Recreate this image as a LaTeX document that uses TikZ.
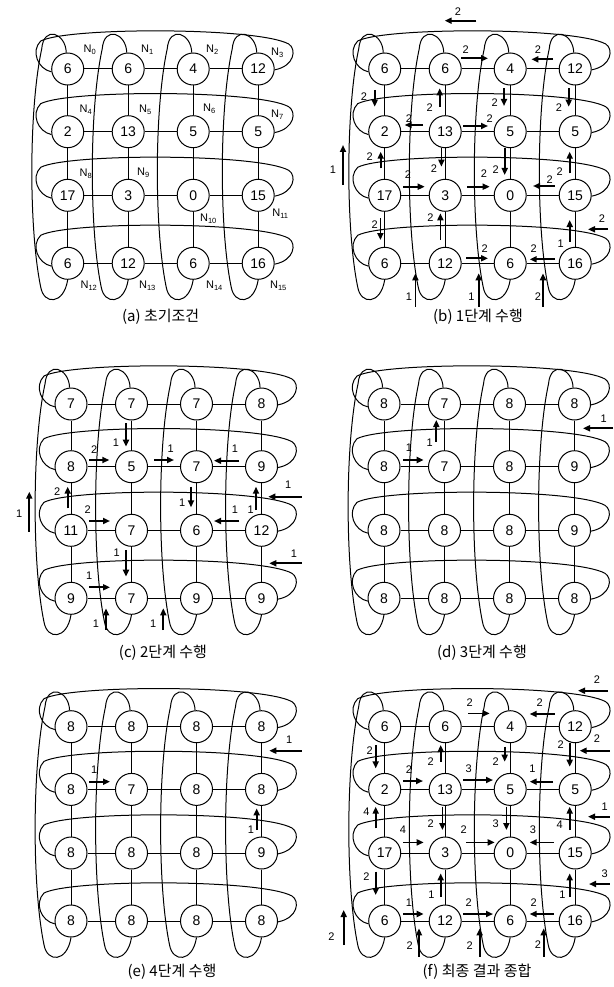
\documentclass[tikz,border=0pt]{standalone}
\usepackage{fontspec}
\setmainfont{Liberation Sans}
\newfontfamily\krfont{Noto Sans CJK KR}
\usetikzlibrary{arrows.meta}

\tikzset{
 nd/.style={circle, draw, line width=1pt, fill=white, minimum size=32pt, inner sep=0pt, font=\fontsize{14}{14}\selectfont},
 lnk/.style={line width=1pt},
 wrp/.style={line width=1pt},
 arr/.style={line width=1.8pt, -{Triangle[length=7pt,width=6pt]}},
 lab/.style={font=\fontsize{11}{11}\selectfont, inner sep=0pt},
 nlab/.style={font=\fontsize{11}{11}\selectfont, inner sep=0pt},
 captext/.style={font=\krfont\fontsize{15}{15}\selectfont, inner sep=0pt},
}
\def\colX{{0,60.5,125.5,190.5}}
\def\rowY{{0,62.7,126.3,194.3}}
\newcommand\Nl[1]{N\raisebox{-2pt}{\fontsize{7.5}{7.5}\selectfont #1}}
\newcommand\arw[4]{\draw[arr] (#1) -- (#2); \node[lab] at (#3) {#4};}

\newcommand\torus[4]{%
 \foreach \v [count=\k from 0] in {#4} {
   \pgfmathtruncatemacro\rr{int(\k/4)}
   \pgfmathtruncatemacro\cc{mod(\k,4)}
   \pgfmathsetmacro\xx{\colX[\cc]}
   \pgfmathsetmacro\yy{\rowY[\rr]}
   \node[nd] (#1\k) at (\xx,\yy) {\v};
 }
 \foreach \rr in {0,...,3} { \foreach \cc in {0,1,2} {
   \pgfmathtruncatemacro\a{4*\rr+\cc}\pgfmathtruncatemacro\b{\a+1}
   \draw[lnk] (#1\a) -- (#1\b);
   \pgfmathtruncatemacro\a{4*\cc+\rr}\pgfmathtruncatemacro\b{\a+4}
   \draw[lnk] (#1\a) -- (#1\b);
 }}
 \foreach \rr in {0,...,3} {
   \pgfmathsetmacro\yy{\rowY[\rr]}
   \pgfmathtruncatemacro\a{4*\rr}\pgfmathtruncatemacro\b{\a+3}
   \draw[wrp] (#1\a.190) .. controls (-30,\yy) and (-37,\yy-18) .. (-27,\yy-28)
      .. controls (0,\yy-42) and (190,\yy-42) .. (221,\yy-25)
      .. controls (229,\yy-20) and (227,\yy-3) .. (#1\b.-3);
 }
 \foreach \cc in {0,...,3} {
   \pgfmathsetmacro\xx{\colX[\cc]}
   \pgfmathtruncatemacro\b{12+\cc}
   \draw[wrp] (#1\cc.95) .. controls (\xx-2,-36) and (\xx-24,-44) .. (\xx-26,-20)
     .. controls (\xx-39,40) and (\xx-39,160) .. (\xx-27,218)
     .. controls (\xx-24,236) and (\xx-4,236) .. (#1\b.south);
 }
}

\begin{document}
\begin{tikzpicture}[x=1pt,y=-1pt]
\useasboundingbox (0,0) rectangle (613,987);

% (a)
\begin{scope}[shift={(67.7,69)}]
\torus{a}{0}{0}{6,6,4,12,2,13,5,5,17,3,0,15,6,12,6,16}
\node[nlab] (na0) at (22,-19) {\Nl{0}};
\node[nlab] (na1) at (79.5,-19) {\Nl{1}};
\node[nlab] (na2) at (144.5,-19) {\Nl{2}};
\node[nlab] (na3) at (209.5,-16) {\Nl{3}};
\node[nlab] (na4) at (18,40.7) {\Nl{4}};
\node[nlab] (na5) at (77.5,40.7) {\Nl{5}};
\node[nlab] (na6) at (141.5,39.7) {\Nl{6}};
\node[nlab] (na7) at (209.5,45.7) {\Nl{7}};
\node[nlab] (na8) at (18,104.3) {\Nl{8}};
\node[nlab] (na9) at (75.5,103.3) {\Nl{9}};
\node[nlab] (na10) at (140.5,149.3) {\Nl{10}};
\node[nlab] (na11) at (212.5,144.3) {\Nl{11}};
\node[nlab] (na12) at (21,216.3) {\Nl{12}};
\node[nlab] (na13) at (79.5,216.3) {\Nl{13}};
\node[nlab] (na14) at (146.5,216.3) {\Nl{14}};
\node[nlab] (na15) at (210.5,216.3) {\Nl{15}};
\end{scope}
\node[captext] (capa) at (160.7,317) {(a) 초기조건};

% (b)
\begin{scope}[shift={(384.7,69)}]
\torus{b}{0}{0}{6,6,4,12,2,13,5,5,17,3,0,15,6,12,6,16}
\arw{91.7,-48.3}{60,-48.3}{73.3,-57.3}{2}
\arw{76.7,-10.7}{103.3,-10.7}{81,-19.7}{2}
\arw{168.3,-9.7}{146.7,-9.7}{153.3,-19.7}{2}
\arw{-10,21}{-10,37.7}{-20.7,27.7}{2}
\arw{184,19.3}{184,37.7}{174.3,38.3}{2}
\arw{55,37.7}{55,19.3}{45,38.3}{2}
\arw{119.3,19.3}{119.3,37}{110,33.7}{2}
\arw{38.3,56}{20,56}{24.3,49.3}{2}
\arw{78.3,57}{103.3,57}{105,49.3}{2}
\arw{-4,99.3}{-4,82.7}{-15,87.7}{2}
\arw{56.7,79.3}{56.7,97.7}{49.3,99.3}{2}
\arw{120,79.3}{120,106}{111,101}{2}
\arw{18.3,117.7}{40,117.7}{23.3,106}{2}
\arw{82.3,117.7}{105,117.7}{99.3,104.3}{2}
\arw{170,117}{148.3,117}{165,111}{2}
\arw{185,104.3}{185,82.7}{175,102.7}{2}
\arw{-4.3,149.3}{-4.3,171}{-10,155.3}{2}
\arw{55.7,171}{55.7,144.3}{45.7,148.3}{2}
\arw{185,172.7}{185,151}{176,174.3}{1}
\arw{223.3,160.3}{203.3,160.3}{217.3,150}{2}
\arw{81.7,189.3}{103.3,189.3}{100,179.3}{2}
\arw{170,190.3}{145,190.3}{149,179.3}{2}
\arw{-41.7,116}{-41.7,76}{-51.7,101}{1}
\arw{30.7,237.7}{30.7,204.3}{24.3,227.7}{1}
\arw{94,237.7}{94,204.3}{86.7,227.7}{1}
\arw{158.3,237.7}{158.3,204.3}{153.3,227.7}{2}
\end{scope}
\node[captext] (capb) at (478,317) {(b) 1단계 수행};

% (c)
\begin{scope}[shift={(71,404)}]
\torus{c}{0}{0}{7,7,7,8,8,5,7,9,11,7,6,12,9,7,9,9}
\arw{55,19.3}{55,42.7}{45,38.7}{1}
\arw{18.3,56}{38.3,56}{23.3,46}{2}
\arw{83,56}{103,56}{99.7,44.3}{1}
\arw{168.3,56.7}{143,56.7}{164,44.3}{1}
\arw{-3.3,104.3}{-3.3,82.7}{-13.7,87.7}{2}
\arw{120,82.7}{120,103.3}{111.3,98.7}{1}
\arw{185,106}{185,82.7}{179.7,106}{1}
\arw{230.7,92.7}{197.3,92.7}{217.3,81}{1}
\arw{18.3,117}{39,117}{16.7,106}{2}
\arw{168.3,117}{143,117}{164,106}{1}
\arw{55,146}{55,172.7}{45.7,148.7}{1}
\arw{230.7,159.3}{198.3,159.3}{223,149.3}{1}
\arw{18.3,183.3}{39,183.3}{18.3,172}{1}
\arw{-41.7,127.7}{-41.7,87.7}{-51.7,109.3}{1}
\arw{35,226}{35,204.3}{25,220}{1}
\arw{92.3,226}{92.3,204.3}{82.3,220}{1}
\end{scope}
\node[captext] (capc) at (163,653) {(c) 2단계 수행};

% (d)
\begin{scope}[shift={(384,404)}]
\torus{d}{0}{0}{8,7,8,8,8,7,8,9,8,8,8,9,8,8,8,8}
\arw{52.3,37.7}{52.3,16}{45.7,38.7}{1}
\arw{19,56}{39.7,56}{25,43.3}{1}
\arw{229,24.3}{199,24.3}{219.7,14.3}{1}
\end{scope}
\node[captext] (capd) at (482,653) {(d) 3단계 수행};

% (e)
\begin{scope}[shift={(71,726.7)}]
\torus{e}{0}{0}{8,8,8,8,8,7,8,8,8,8,8,9,8,8,8,8}
\arw{230.7,24}{198.3,24}{218.3,13.3}{1}
\arw{18.3,55}{39,55}{23.3,43.3}{1}
\arw{185.7,103.3}{185.7,81.7}{180,103.3}{1}
\end{scope}
\node[captext] (cape) at (172,972) {(e) 4단계 수행};

% (f)
\begin{scope}[shift={(384.7,726.7)}]
\torus{f}{0}{0}{6,6,4,12,2,13,5,5,17,3,0,15,6,12,6,16}
\arw{223.3,-36}{193.3,-36}{212.3,-46.7}{2}
\arw{83.3,-13.3}{105,-13.3}{85,-24}{2}
\arw{170,-12.7}{145,-12.7}{155,-24}{2}
\arw{225,24}{195,24}{212.3,11.7}{2}
\arw{-9,18.3}{-9,41.7}{-15,24}{2}
\arw{56,35}{56,18.3}{46,35}{2}
\arw{120,20}{120,35}{111,35}{2}
\arw{185,16.7}{185,40}{176,18.3}{2}
\arw{18.3,54.3}{38.3,54.3}{24.3,42.7}{2}
\arw{78.3,53.3}{108.3,53.3}{84,41.7}{3}
\arw{168.3,55}{145,55}{147.7,41.7}{1}
\arw{-9,101.7}{-9,80}{-18.3,85}{4}
\arw{57.7,80}{57.7,103.3}{46,96.7}{2}
\arw{121.7,80}{121.7,103.3}{111,96.7}{3}
\arw{185,103.3}{185,80}{175,98.3}{4}
\arw{225,90}{203.3,90}{220,80}{1}
\arw{18.3,115.7}{39,115.7}{18.3,103.3}{4}
\arw{81.7,115.7}{110,115.7}{79,103.3}{2}
\arw{169,115.7}{145,115.7}{148.3,103.3}{3}
\arw{-9,145}{-9,168.3}{-18.3,150}{2}
\arw{56,170}{56,146.7}{46.7,168.3}{1}
\arw{185,170}{185,146.7}{177.7,168.3}{1}
\arw{225,157.3}{204.3,157.3}{220,146.7}{3}
\arw{18.3,187.3}{39,187.3}{24.3,176}{1}
\arw{78.3,187.3}{108.3,187.3}{84,176}{2}
\arw{169,187.3}{145,187.3}{149,176}{2}
\arw{-41,218.3}{-41,183.3}{-53.3,210}{2}
\arw{34.3,230}{34.3,201.7}{25,219.3}{2}
\arw{95,230}{95,201.7}{85,219.3}{2}
\arw{159,230}{159,201.7}{153.3,218.3}{2}
\end{scope}
\node[captext] (capf) at (477,972) {(f) 최종 결과 종합};
\end{tikzpicture}
\end{document}
